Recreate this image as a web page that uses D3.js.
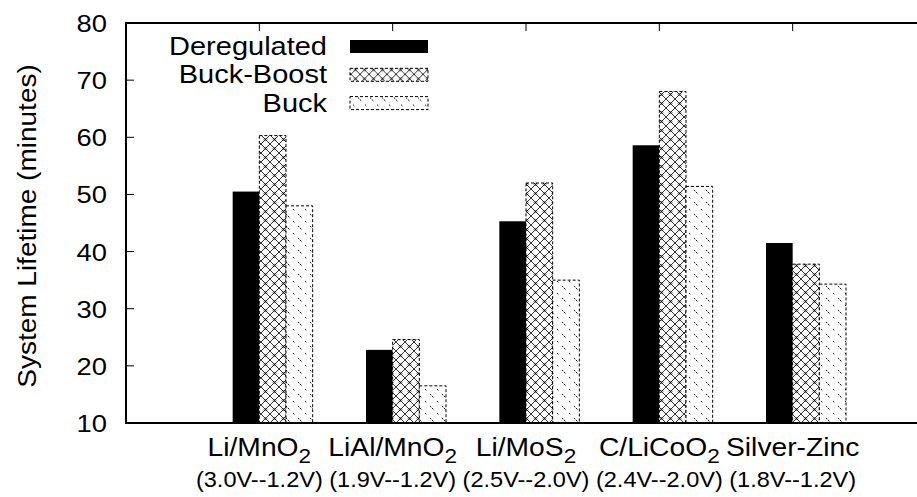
<!DOCTYPE html>
<html>
<head>
<meta charset="utf-8">
<script src="https://cdn.jsdelivr.net/npm/d3@7/dist/d3.min.js"></script>
<style>
body { margin: 0; background: #fff; }
text { font-family: "Liberation Sans", Arial, Helvetica, sans-serif; fill: #000; }
</style>
</head>
<body>
<svg width="917" height="497"></svg>
<script>
// battery chemistries (subscript kept apart so it can be lowered)
var batteries = ['Li/MnO', 'LiAl/MnO', 'Li/MoS', 'C/LiCoO', 'Silver-Zinc'];
var batterySubs = ['2', '2', '2', '2', ''];
var voltRanges = ['(3.0V--1.2V)', '(1.9V--1.2V)', '(2.5V--2.0V)', '(2.4V--2.0V)', '(1.8V--1.2V)'];

var seriesNames = ['Deregulated', 'Buck-Boost', 'Buck'];
var deregulated = [50.5, 22.8, 45.3, 58.6, 41.5];
var buckBoost = [60.3, 24.6, 52.0, 68.0, 37.8];
var buck = [48.0, 16.5, 35.0, 51.4, 34.3];
var yTicks = [10, 20, 30, 40, 50, 60, 70, 80];

var svg = d3.select('svg');
var plotL = 126, plotR = 926, plotT = 23, plotB = 423;

var x = d3.scaleLinear().domain([-1, 5]).range([plotL, plotR]);
var y = d3.scaleLinear().domain([10, 80]).range([plotB, plotT]);
var barW = 0.2;

/********** fill patterns **********/
var defs = svg.append('defs');
var cross = defs.append('pattern')
    .attr('id', 'cross')
    .attr('patternUnits', 'userSpaceOnUse')
    .attr('width', 9).attr('height', 9);
cross.append('rect').attr('width', 9).attr('height', 9).attr('fill', '#fff');
cross.append('path')
    .attr('d', 'M0,0 L9,9 M9,0 L0,9')
    .attr('stroke', '#000').attr('stroke-width', 0.8).attr('fill', 'none');
cross.append('path')
    .attr('d', 'M4.5,3 L6,4.5 L4.5,6 L3,4.5 Z')
    .attr('stroke', '#000').attr('stroke-width', 0.5).attr('fill', 'none');

var sparse = defs.append('pattern')
    .attr('id', 'sparse')
    .attr('patternUnits', 'userSpaceOnUse')
    .attr('width', 12).attr('height', 12);
sparse.append('rect').attr('width', 12).attr('height', 12).attr('fill', '#fff');
sparse.append('path')
    .attr('d', 'M0,0 L12,12')
    .attr('stroke', '#000').attr('stroke-width', 0.9)
    .attr('stroke-dasharray', '2,5');

var fills = ['#000', 'url(#cross)', 'url(#sparse)'];
var dashes = [null, '3,2', '3,2'];

/********** bars **********/
var seriesData = [deregulated, buckBoost, buck];
seriesData.forEach(function(vals, j) {
    svg.append('g').selectAll('rect')
        .data(vals).enter().append('rect')
        .attr('x', function(d, i) { return x(i + (j - 1) * barW); })
        .attr('width', x(barW) - x(0))
        .attr('y', function(d) { return y(d); })
        .attr('height', function(d) { return y(10) - y(d); })
        .attr('fill', fills[j])
        .attr('stroke', j === 0 ? 'none' : '#000')
        .attr('stroke-width', 1)
        .attr('stroke-dasharray', dashes[j]);
});

/********** frame and ticks **********/
svg.append('path')
    .attr('d', 'M' + plotR + ',' + plotT + 'H' + plotL + 'V' + plotB + 'H' + plotR)
    .attr('fill', 'none').attr('stroke', '#000').attr('stroke-width', 2);

svg.append('g').selectAll('line')
    .data(yTicks.slice(1, -1)).enter().append('line')
    .attr('x1', plotL).attr('x2', plotL + 8)
    .attr('y1', function(d) { return y(d); })
    .attr('y2', function(d) { return y(d); })
    .attr('stroke', '#000').attr('stroke-width', 1);

svg.append('g').selectAll('line')
    .data(batteries).enter().append('line')
    .attr('x1', function(d, i) { return x(i); })
    .attr('x2', function(d, i) { return x(i); })
    .attr('y1', plotT).attr('y2', plotT + 8)
    .attr('stroke', '#000').attr('stroke-width', 1);

// y tick labels
svg.append('g').selectAll('g')
    .data(yTicks).enter().append('g')
    .attr('transform', function(d) { return 'translate(107,' + (y(d) + 9) + ')scale(1.14,1)'; })
    .append('text')
    .attr('text-anchor', 'end')
    .style('font-size', '24px')
    .text(function(d) { return d; });

// y axis title
svg.append('g')
    .attr('transform', 'translate(36,226)rotate(-90)scale(1.12,1)')
    .append('text')
    .attr('text-anchor', 'middle')
    .style('font-size', '25px')
    .text('System Lifetime (minutes)');

// category labels
var cat = svg.append('g').selectAll('g')
    .data(batteries).enter().append('g')
    .attr('transform', function(d, i) { return 'translate(' + x(i) + ',456)scale(1.13,1)'; })
    .append('text')
    .attr('text-anchor', 'middle')
    .style('font-size', '25px');
cat.append('tspan').text(function(d) { return d; });
cat.append('tspan')
    .attr('dy', 7)
    .style('font-size', '20px')
    .text(function(d, i) { return batterySubs[i]; });

svg.append('g').selectAll('g')
    .data(voltRanges).enter().append('g')
    .attr('transform', function(d, i) { return 'translate(' + x(i) + ',487)scale(1.07,1)'; })
    .append('text')
    .attr('text-anchor', 'middle')
    .style('font-size', '22px')
    .text(function(d) { return d; });

/********** legend **********/
var legend = svg.append('g').selectAll('g')
    .data(seriesNames).enter().append('g')
    .attr('transform', function(d, i) { return 'translate(0,' + (55 + i * 28.3) + ')'; });
legend.append('g')
    .attr('transform', 'translate(327,0)scale(1.16,1)')
    .append('text')
    .attr('text-anchor', 'end')
    .style('font-size', '25px')
    .text(function(d) { return d; });
legend.append('rect')
    .attr('x', 350).attr('y', -15)
    .attr('width', 78).attr('height', 13)
    .attr('fill', function(d, i) { return fills[i]; })
    .attr('stroke', function(d, i) { return i === 0 ? 'none' : '#000'; })
    .attr('stroke-dasharray', function(d, i) { return dashes[i]; });
</script>
</body>
</html>
